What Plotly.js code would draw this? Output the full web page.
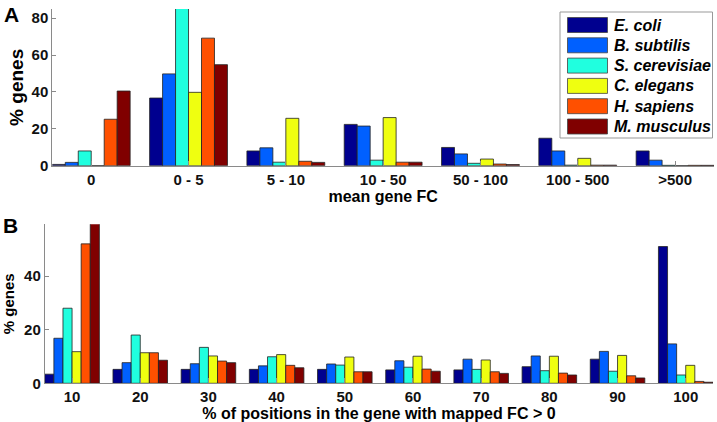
<!DOCTYPE html>
<html>
<head>
<meta charset="utf-8">
<script src="https://cdn.plot.ly/plotly-3.0.1.min.js"></script>
<style>html,body{margin:0;padding:0;background:#fff;}#chart{width:717px;height:422px;}</style>
</head>
<body>
<div id="chart"></div>
<script>
// ---- data ----
const species = ['E. coli', 'B. subtilis', 'S. cerevisiae', 'C. elegans', 'H. sapiens', 'M. musculus'];
const colors = ['#00008F', '#0060FF', '#20FFDF', '#EFFF10', '#FF5000', '#800000'];

const categoriesA = ['0', '0 - 5', '5 - 10', '10 - 50', '50 - 100', '100 - 500', '>500'];
const ecoliA = [0.7, 36.7, 8.0, 22.4, 9.9, 14.9, 8.0];
const bsubA  = [1.8, 49.8, 9.7, 21.5, 6.4, 8.0, 3.0];
const scerA  = [8.0, 86.0, 1.9, 3.0, 1.3, 0.3, 0.2];
const celegA = [0.0, 39.8, 25.7, 26.1, 3.6, 4.0, 0.0];
const hsapA  = [25.2, 69.2, 2.4, 1.9, 0.9, 0.3, 0.2];
const mmusA  = [40.5, 54.8, 1.8, 1.9, 0.6, 0.3, 0.2];

const categoriesB = ['10', '20', '30', '40', '50', '60', '70', '80', '90', '100'];
const ecoliB = [3.4, 5.2, 5.2, 5.2, 5.2, 5.0, 5.0, 6.2, 9.0, 51.0];
const bsubB  = [16.8, 7.7, 7.3, 6.5, 7.2, 8.4, 9.0, 10.2, 11.9, 14.7];
const scerB  = [28.0, 18.0, 13.4, 9.9, 6.8, 6.0, 5.2, 4.7, 4.5, 3.1];
const celegB = [11.8, 11.4, 10.2, 10.7, 9.8, 10.1, 8.7, 10.1, 10.4, 6.7];
const hsapB  = [52.0, 11.4, 8.3, 6.7, 4.3, 5.3, 4.3, 3.8, 2.8, 0.7];
const mmusB  = [60.0, 8.6, 7.7, 5.8, 4.3, 4.5, 3.7, 3.1, 2.0, 0.4];

const seriesA = [ecoliA, bsubA, scerA, celegA, hsapA, mmusA];
const seriesB = [ecoliB, bsubB, scerB, celegB, hsapB, mmusB];

// ---- layout helpers ----
const W = 717, H = 422;
const px = v => v / W;
const py = v => 1 - v / H;
const FONT = 'Liberation Sans, Arial, sans-serif';
const AXIS_GRAY = '#8a8a8a';

const traces = [];
species.forEach((name, i) => {
  traces.push({
    type: 'bar', name: name, x: categoriesA, y: seriesA[i],
    xaxis: 'x', yaxis: 'y', showlegend: false,
    marker: {color: colors[i], line: {color: '#222', width: 0.8}}
  });
});
species.forEach((name, i) => {
  traces.push({
    type: 'bar', name: name, x: categoriesB, y: seriesB[i],
    xaxis: 'x2', yaxis: 'y2', showlegend: false,
    marker: {color: colors[i], line: {color: '#222', width: 0.8}}
  });
});

const tickFont = {family: FONT, size: 15, color: '#111', weight: 'bold'};
const baseX = {
  type: 'category', showline: true, linecolor: AXIS_GRAY, linewidth: 1,
  ticks: 'inside', ticklen: 5, tickcolor: AXIS_GRAY, showgrid: false, zeroline: false,
  tickfont: tickFont, fixedrange: true
};
const baseY = {
  showline: true, linecolor: AXIS_GRAY, linewidth: 1,
  ticks: 'inside', ticklen: 4, tickcolor: AXIS_GRAY, showgrid: false, zeroline: false,
  tickfont: tickFont, fixedrange: true
};

// custom legend (large swatches, as in the original)
const shapes = [];
const annotations = [];
shapes.push({type: 'rect', xref: 'paper', yref: 'paper',
  x0: px(560), x1: px(712.5), y0: py(138), y1: py(12),
  line: {color: '#999', width: 1}, fillcolor: '#fff', layer: 'above'});
species.forEach((name, i) => {
  const cy = 25 + i * 20.3;
  shapes.push({type: 'rect', xref: 'paper', yref: 'paper',
    x0: px(567.5), x1: px(607.5), y0: py(cy + 7.5), y1: py(cy - 7.5),
    line: {color: '#444', width: 0.8}, fillcolor: colors[i], layer: 'above'});
  annotations.push({xref: 'paper', yref: 'paper', x: px(612), y: py(cy),
    xanchor: 'left', yanchor: 'middle', showarrow: false, text: name,
    font: {family: FONT, size: 16, color: '#000', weight: 'bold', style: 'italic'}});
});
annotations.push({xref: 'paper', yref: 'paper', x: px(11), y: py(1), xanchor: 'center', yanchor: 'top',
  showarrow: false, text: 'A', font: {family: FONT, size: 21, color: '#000', weight: 'bold'}});
annotations.push({xref: 'paper', yref: 'paper', x: px(10), y: py(212), xanchor: 'center', yanchor: 'top',
  showarrow: false, text: 'B', font: {family: FONT, size: 21, color: '#000', weight: 'bold'}});

const layout = {
  width: W, height: H,
  margin: {l: 0, r: 0, t: 0, b: 0},
  paper_bgcolor: '#fff', plot_bgcolor: 'rgba(0,0,0,0)',
  font: {family: FONT, color: '#000'},
  barmode: 'group', bargap: 0.2, bargroupgap: 0,
  showlegend: false,
  xaxis: Object.assign({}, baseX, {
    domain: [px(52.3), px(714)], anchor: 'y', range: [-0.4, 6.4],
    title: {text: 'mean gene FC', font: {family: FONT, size: 16, color: '#000', weight: 'bold'}, standoff: 4}
  }),
  yaxis: Object.assign({}, baseY, {
    domain: [py(165.7), py(9)], anchor: 'x', range: [0, 85],
    tickvals: [0, 20, 40, 60, 80],
    title: {text: '% genes', font: {family: FONT, size: 19, color: '#000', weight: 'bold'}, standoff: 2}
  }),
  xaxis2: Object.assign({}, baseX, {
    domain: [px(44.8), px(713)], anchor: 'y2', range: [-0.4, 9.4],
    title: {text: '% of positions in the gene with mapped FC > 0', font: {family: FONT, size: 16, color: '#000', weight: 'bold'}, standoff: 1}
  }),
  yaxis2: Object.assign({}, baseY, {
    domain: [py(383.3), py(224.3)], anchor: 'x2', range: [0, 59.3],
    tickvals: [0, 20, 40],
    title: {text: '% genes', font: {family: FONT, size: 15, color: '#000', weight: 'bold'}, standoff: 10}
  }),
  shapes: shapes,
  annotations: annotations
};

Plotly.newPlot('chart', traces, layout, {staticPlot: true, displayModeBar: false});
</script>
</body>
</html>
